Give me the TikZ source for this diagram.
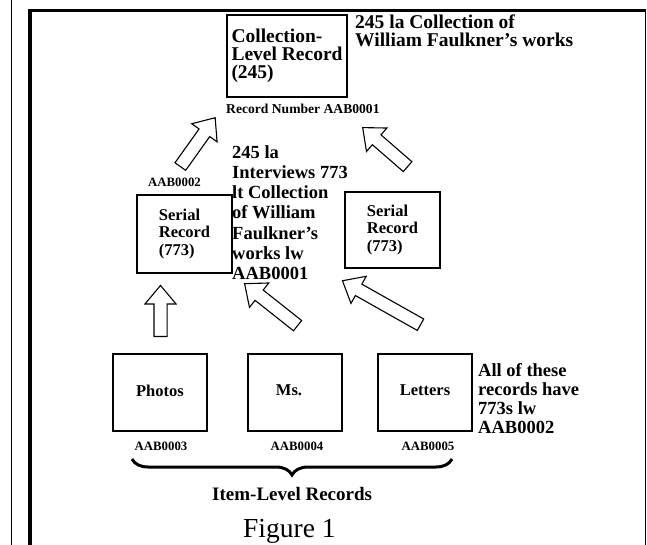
\documentclass[tikz,border=0pt]{standalone}
\usepackage{fontspec}
\setmainfont{Liberation Serif}
\usetikzlibrary{shapes.arrows,decorations.pathreplacing}
\begin{document}
\begin{tikzpicture}[x=1pt,y=-1pt,
  rec/.style={draw, line width=1.1pt, inner sep=0pt, align=left},
  bigtxt/.style={inner sep=0pt, anchor=north west, align=left, font=\bfseries\fontsize{19.5}{18}\selectfont},
  midtxt/.style={inner sep=0pt, anchor=north west, align=left, font=\bfseries\fontsize{18.5}{20.3}\selectfont},
  lbl/.style={inner sep=0pt, font=\bfseries\fontsize{12.8}{15}\selectfont},
  boxfont/.style={font=\bfseries\fontsize{16.5}{17.5}\selectfont},
  harrow/.style={single arrow, draw, line width=1.1pt, inner xsep=0pt, inner ysep=6pt,
    single arrow head extend=9pt, single arrow tip angle=80, minimum height=#1, anchor=tail}
]
\useasboundingbox (0,0) rectangle (647,545);
% frame
\draw[line width=1.4pt] (11.5,0) -- (11.5,545);
\draw[line width=3.5pt] (30,545) -- (30,10.5) -- (646,10.5);
\draw[line width=1.5pt] (645.5,10) -- (645.5,545);

% collection-level record
\node[rec, minimum width=120pt, minimum height=82pt, font=\bfseries\fontsize{19.5}{18}\selectfont] (coll) at (287,56) {Collection-\\Level Record\\(245)};
\node[bigtxt] (t245) at (355,15) {245 la Collection of\\William Faulkner's works};
\node[lbl, anchor=base west, font=\bfseries\fontsize{13.6}{15}\selectfont] (recno) at (226,114) {Record Number AAB0001};

% serial records
\node[rec, boxfont, minimum width=95pt, minimum height=78pt] (s1) at (184.5,234) {Serial\\Record\\(773)};
\node[rec, boxfont, minimum width=95pt, minimum height=76pt] (s2) at (392.5,230) {Serial\\Record\\(773)};
\node[lbl, anchor=base west] (aab2) at (148,187) {AAB0002};
\node[midtxt] (mid) at (232,145) {245 la\\Interviews 773\\lt Collection\\of William\\Faulkner's\\works lw\\AAB0001};

% item-level records
\node[rec, boxfont, minimum width=94pt, minimum height=77pt] (ph) at (160,392.5) {\raisebox{4pt}{Photos}};
\node[rec, boxfont, minimum width=94pt, minimum height=77pt] (ms) at (295,392.5) {\raisebox{4pt}{Ms.}\hspace{12pt}};
\node[rec, boxfont, minimum width=94pt, minimum height=77pt] (le) at (425,392.5) {\raisebox{4pt}{Letters}};
\node[lbl, anchor=base] (n3) at (161,450) {AAB0003};
\node[lbl, anchor=base] (n4) at (297,450) {AAB0004};
\node[lbl, anchor=base] (n5) at (428,450) {AAB0005};
\node[midtxt, font=\bfseries\fontsize{18.5}{19}\selectfont] (all) at (478,363) {All of these\\records have\\773s lw\\AAB0002};

% block arrows
\node[harrow=60pt, rotate=54.5] (ar1) at (180,167) {};
\node[harrow=59.5pt, rotate=139] (ar2) at (408,167) {};
\node[harrow=51pt, rotate=90] (ar3) at (160.5,337) {};
\node[harrow=67.6pt, rotate=141.6] (ar4) at (298,326) {};
\node[harrow=89.6pt, rotate=150.6] (ar5) at (421,325) {};

% brace and captions
\draw[decorate, decoration={brace, mirror, amplitude=16pt}, line width=3pt] (132,459) -- (452,459);
\node[inner sep=0pt, anchor=base west, font=\bfseries\fontsize{19}{21}\selectfont] (item) at (212,500) {Item-Level Records};
\node[inner sep=0pt, anchor=base west, font=\fontsize{27.5}{30}\selectfont] (fig) at (243,537) {Figure 1};
\end{tikzpicture}
\end{document}
